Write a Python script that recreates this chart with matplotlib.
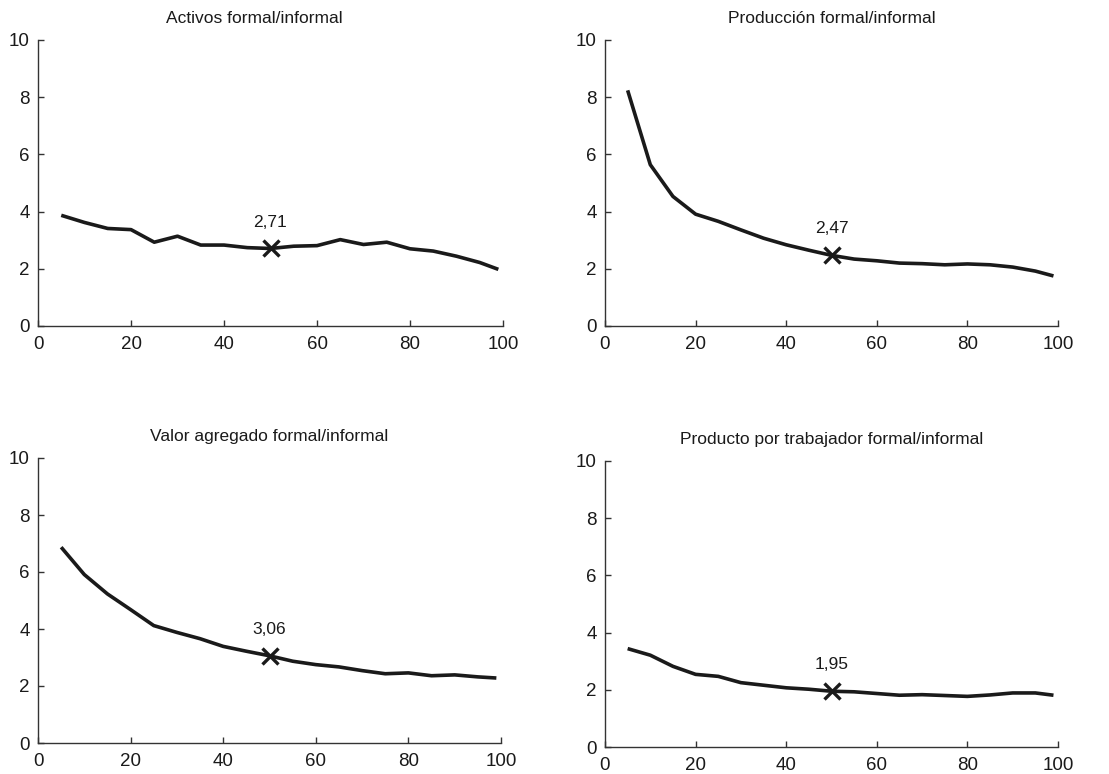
import matplotlib
matplotlib.use("Agg")
import matplotlib.pyplot as plt

plt.rcParams['font.family'] = ['Liberation Sans', 'DejaVu Sans']

x = [5, 10, 15, 20, 25, 30, 35, 40, 45, 50, 55, 60, 65, 70, 75, 80, 85, 90, 95, 99]

activos = [3.87, 3.62, 3.41, 3.37, 2.93, 3.14, 2.83, 2.83, 2.74, 2.71,
           2.79, 2.81, 3.02, 2.85, 2.93, 2.70, 2.62, 2.44, 2.22, 1.98]
produccion = [8.24, 5.64, 4.53, 3.91, 3.66, 3.36, 3.07, 2.84, 2.65, 2.47,
              2.34, 2.28, 2.20, 2.18, 2.14, 2.17, 2.14, 2.06, 1.92, 1.75]
valor_agregado = [6.87, 5.91, 5.23, 4.68, 4.12, 3.88, 3.66, 3.39, 3.22, 3.06,
                  2.87, 2.75, 2.67, 2.54, 2.43, 2.46, 2.36, 2.39, 2.32, 2.28]
producto_trab = [3.44, 3.21, 2.82, 2.54, 2.47, 2.25, 2.16, 2.07, 2.02, 1.95,
                 1.93, 1.87, 1.81, 1.83, 1.80, 1.77, 1.82, 1.89, 1.89, 1.81]

titles = ["Activos formal/informal", "Producción formal/informal",
          "Valor agregado formal/informal", "Producto por trabajador formal/informal"]
series = [activos, produccion, valor_agregado, producto_trab]
median_x = 50
median_labels = ["2,71", "2,47", "3,06", "1,95"]
median_vals = [2.71, 2.47, 3.06, 1.95]

xticks = [0, 20, 40, 60, 80, 100]
yticks = [0, 2, 4, 6, 8, 10]

W, H = 1109, 774
fig = plt.figure(figsize=(W / 100, H / 100), dpi=100)

# axes boxes in pixels: left, right, top, bottom
boxes = [(38, 503, 40, 326), (605, 1058, 40, 326),
         (38, 501, 458, 743), (605, 1058, 461, 747)]
title_x = [0.465, 0.5, 0.5, 0.5]

axis_color = "#333333"
for i, (l, r, t, b) in enumerate(boxes):
    ax = fig.add_axes([l / W, 1 - b / H, (r - l) / W, (b - t) / H])
    ax.plot(x, series[i], color="#1a1a1a", lw=2.6, solid_capstyle="butt")
    ax.plot([median_x], [median_vals[i]], marker="x", color="#1a1a1a",
            markersize=11, mew=2.4, ls="none")
    ax.annotate(median_labels[i], (median_x, median_vals[i]), xytext=(0, 19),
                textcoords="offset points", ha="center", va="center",
                fontsize=12.5, color="#1a1a1a")
    ax.set_xlim(0, 100)
    ax.set_ylim(0, 10)
    ax.set_xticks(xticks)
    ax.set_yticks(yticks)
    ax.spines["top"].set_visible(False)
    ax.spines["right"].set_visible(False)
    for s in ("left", "bottom"):
        ax.spines[s].set_color(axis_color)
        ax.spines[s].set_linewidth(1.0)
    ax.tick_params(direction="in", length=4, width=1, color=axis_color,
                   labelsize=13.5, labelcolor="#1a1a1a", pad=6)
    ax.tick_params(axis="x", pad=7)
    ax.set_title(titles[i], fontsize=12.5, color="#1a1a1a", x=title_x[i], pad=12)

fig.savefig("out.png", dpi=100)
